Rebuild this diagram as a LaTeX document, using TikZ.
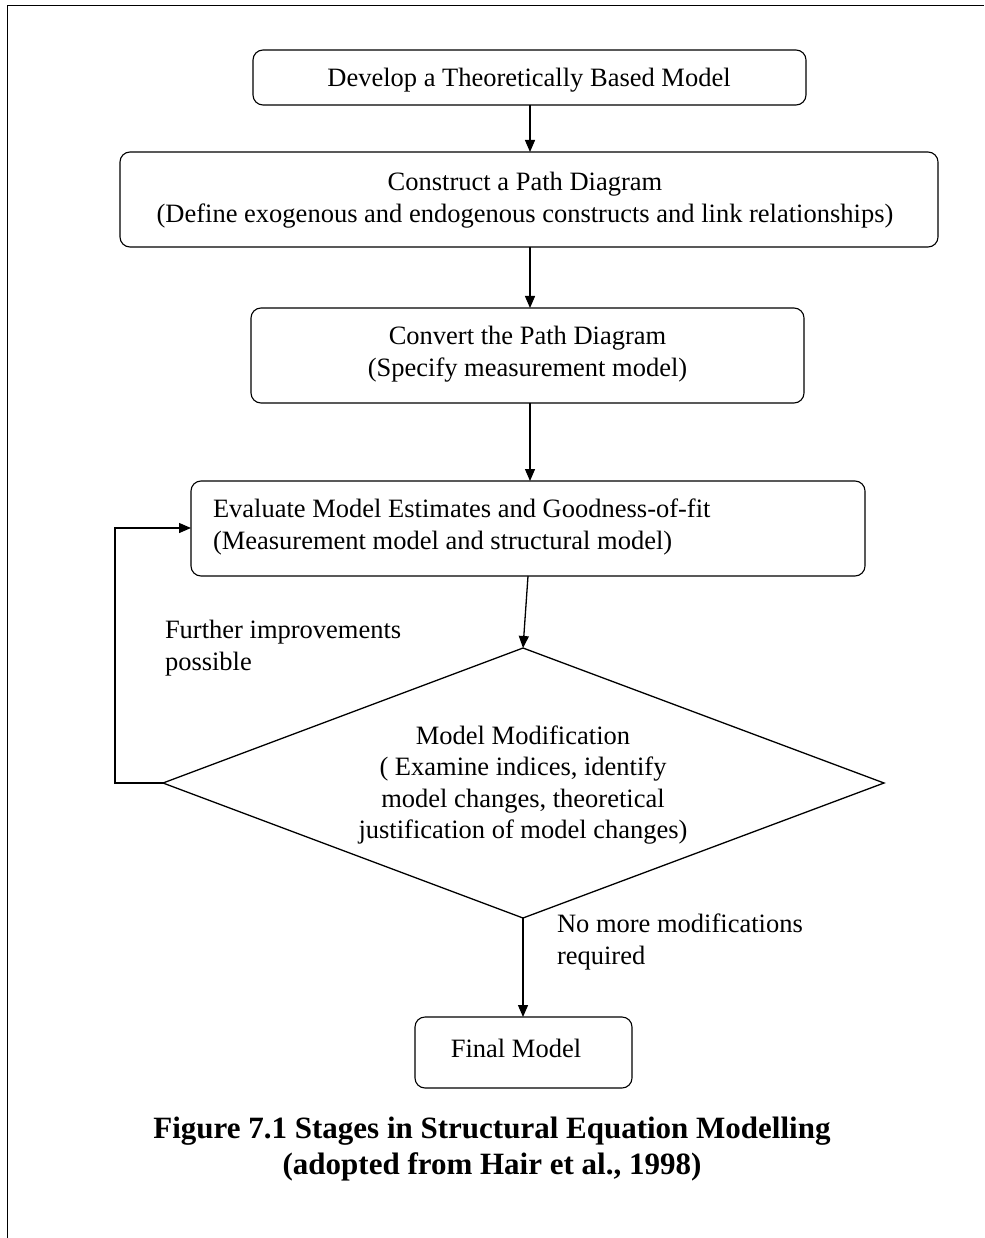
\documentclass[tikz,border=0pt]{standalone}
\usepackage{fontspec}
\setmainfont{Liberation Serif}
\usetikzlibrary{arrows.meta,shapes.geometric}
\begin{document}
\begin{tikzpicture}[x=1pt,y=-1pt,
  every node/.style={inner sep=0pt,outer sep=0pt},
  stage/.style={draw,line width=1.1pt,rounded corners=10pt},
  txt/.style={font=\fontsize{26.5}{31.5}\selectfont,align=center},
  flow/.style={line width=1.3pt,-{Triangle[length=12pt,width=10pt]}},
  plain/.style={line width=1.3pt}]
\useasboundingbox (0,0) rectangle (984,1238);
% page frame (top and left only)
\draw[line width=1pt] (7,1238) -- (7,6) -- (984,6);

% stage boxes
\node[stage,minimum width=553pt,minimum height=55pt] (b1) at (529.5,77.5) {};
\node[txt] at (529,80) {Develop a Theoretically Based Model};

\node[stage,minimum width=818pt,minimum height=95pt] (b2) at (529,199.5) {};
\node[txt] at (525,200) {Construct a Path Diagram\\(Define exogenous and endogenous constructs and link relationships)};

\node[stage,minimum width=553pt,minimum height=95pt] (b3) at (527.5,355.5) {};
\node[txt] at (527.5,354) {Convert the Path Diagram\\(Specify measurement model)};

\node[stage,minimum width=674pt,minimum height=95pt] (b4) at (528,528.5) {};
\node[txt,align=left,anchor=west] at (213,527) {Evaluate Model Estimates and Goodness-of-fit\\(Measurement model and structural model)};

% decision diamond
\coordinate (dt) at (523,648);
\coordinate (dl) at (163,783);
\coordinate (dr) at (884,783);
\coordinate (db) at (523,918);
\draw[plain,line join=miter] (dt) -- (dr) -- (db) -- (dl) -- cycle;
\node[txt] (dtext) at (523,785) {Model Modification\\( Examine indices, identify\\model changes, theoretical\\justification of model changes)};

% final box
\node[stage,minimum width=217pt,minimum height=71pt] (b5) at (523.5,1052.5) {};
\node[txt] at (516,1048) {Final Model};

% connectors
\draw[flow] (b1.south -| 530,0) -- (b2.north -| 530,0);
\draw[flow] (b2.south -| 530,0) -- (b3.north -| 530,0);
\draw[flow] (b3.south -| 530,0) -- (b4.north -| 530,0);
\draw[flow] (528,576) -- (dt);
\draw[flow] (db) -- (b5.north -| 523,0);
\coordinate (fbl) at (115,783);
\coordinate (ful) at (115,528);
\draw[flow] (dl) -- (fbl) -- (ful) -- (b4.west |- ful);

% edge labels
\node[txt,align=left,anchor=west] (lfurther) at (165,648) {Further improvements\\possible};
\node[txt,align=left,anchor=west] (lnomore) at (557,942) {No more modifications\\required};

% caption
\node[font=\bfseries\fontsize{31}{36}\selectfont,align=center] (cap) at (492,1149) {Figure 7.1 Stages in Structural Equation Modelling\\(adopted from Hair et al., 1998)};
\end{tikzpicture}
\end{document}
